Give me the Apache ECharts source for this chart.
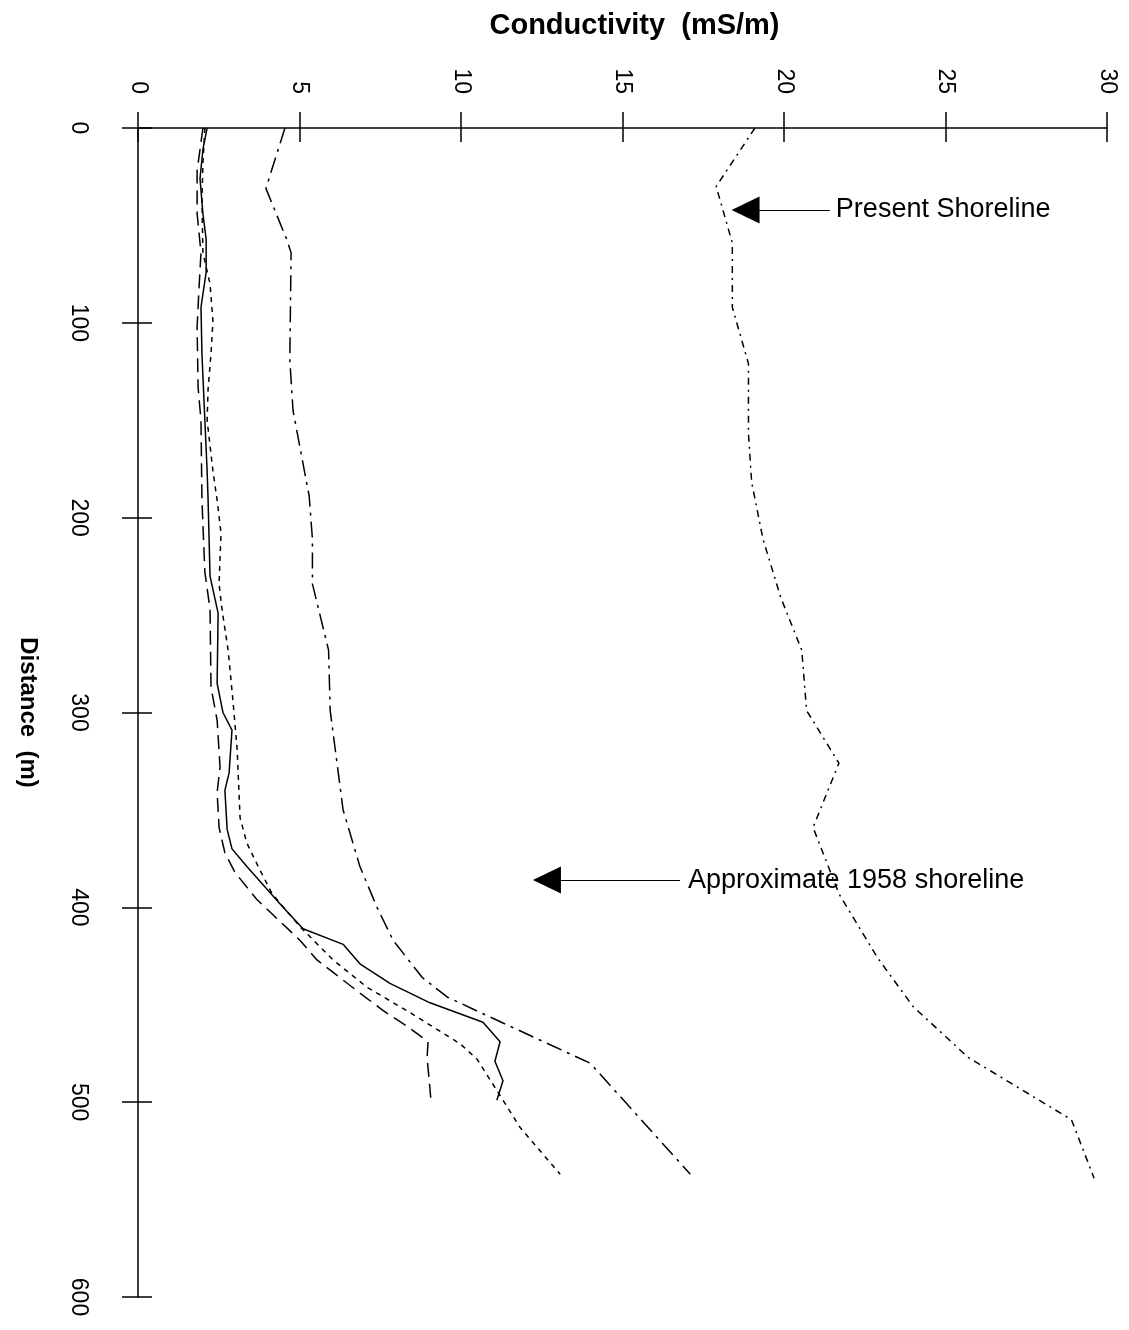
<!DOCTYPE html>
<html>
<head>
<meta charset="utf-8">
<script src="https://cdn.jsdelivr.net/npm/echarts@6/dist/echarts.min.js"></script>
<style>
  html, body { margin: 0; padding: 0; background: #fff; }
  #chart { width: 1129px; height: 1330px; }
</style>
</head>
<body>
<div id="chart"></div>
<script>
// distance (m) and conductivity (mS/m)
const distA = [0, 30, 59, 92, 121, 157, 182, 211, 241, 268, 299, 326, 359, 393, 426, 451, 477, 497, 509, 539];
const condA = [19.1, 17.9, 18.4, 18.4, 18.9, 18.9, 19.0, 19.35, 19.9, 20.55, 20.7, 21.7, 20.9, 21.7, 22.9, 24.0, 25.7, 27.7, 28.9, 29.6];

const distB = [0, 31, 57, 64, 119, 145, 189, 211, 234, 268, 299, 350, 379, 400, 417, 436, 446, 454, 480, 537];
const condB = [4.55, 3.96, 4.6, 4.74, 4.7, 4.8, 5.3, 5.4, 5.4, 5.9, 5.95, 6.35, 6.87, 7.4, 7.9, 8.8, 9.57, 10.6, 14.0, 17.1];

const distS = [0, 11, 26, 44, 57, 74, 92, 116, 150, 176, 191, 230, 249, 285, 300, 309, 331, 340, 360, 370, 379, 400, 411, 419, 429, 439, 449, 459, 469, 479, 489, 499];
const condS = [2.14, 2.01, 1.92, 2.01, 2.11, 2.11, 1.95, 1.98, 2.07, 2.14, 2.17, 2.23, 2.48, 2.45, 2.63, 2.91, 2.82, 2.69, 2.76, 2.91, 3.37, 4.49, 5.11, 6.35, 6.87, 7.8, 9.04, 10.68, 11.21, 11.05, 11.3, 11.11];

const distL = [0, 22, 44, 64, 82, 102, 133, 150, 191, 228, 247, 287, 304, 328, 341, 359, 372, 382, 396, 417, 427, 444, 453, 461, 469, 477, 499];
const condL = [2.01, 1.83, 1.83, 1.95, 1.89, 1.83, 1.86, 1.95, 1.98, 2.07, 2.23, 2.26, 2.45, 2.54, 2.45, 2.51, 2.69, 3.0, 3.68, 5.02, 5.54, 6.87, 7.59, 8.33, 8.98, 8.95, 9.07];

const distD = [0, 18, 37, 64, 80, 99, 116, 134, 150, 176, 191, 208, 234, 247, 268, 294, 319, 354, 367, 379, 393, 410, 427, 441, 454, 470, 478, 494, 513, 537];
const condD = [2.07, 2.01, 1.98, 2.01, 2.23, 2.32, 2.26, 2.17, 2.14, 2.32, 2.45, 2.57, 2.51, 2.6, 2.79, 2.94, 3.07, 3.16, 3.37, 3.72, 4.15, 5.02, 6.04, 7.09, 8.42, 9.97, 10.5, 11.11, 11.83, 13.07];

const condTicks = [0, 5, 10, 15, 20, 25, 30];
const distTicks = [0, 100, 200, 300, 400, 500, 600];

const pairs = (c, d) => c.map((v, i) => [v, d[i]]);

const font = '"Liberation Sans", Arial, Helvetica, sans-serif';

let myChart = echarts.init(document.getElementById('chart'));

const baseX = {
    type: 'value',
    position: 'top',
    min: condTicks[0],
    max: condTicks[condTicks.length - 1],
    interval: 5,
    splitLine: { show: false }
};
const baseY = {
    type: 'value',
    position: 'left',
    inverse: true,
    min: distTicks[0],
    max: distTicks[distTicks.length - 1],
    interval: 100,
    splitLine: { show: false }
};

function lineSeries(name, data, type) {
    return {
        name: name,
        type: 'line',
        data: data,
        symbol: 'none',
        silent: true,
        lineStyle: { color: '#000', width: 1.5, type: type }
    };
}

// arrow + text, placed in data units (conductivity, distance)
function arrow(from, to, text, gap) {
    return {
        type: 'line',
        data: [],
        silent: true,
        markLine: {
            silent: true,
            animation: false,
            symbol: ['none', 'triangle'],
            symbolSize: [27, 28],
            lineStyle: { color: '#000', width: 1.2, type: 'solid' },
            itemStyle: { color: '#000' },
            label: {
                show: true,
                position: 'start',
                distance: gap,
                formatter: text,
                color: '#000',
                fontSize: 27,
                fontFamily: font
            },
            data: [[{ coord: from }, { coord: to }]]
        }
    };
}

let option = {
    animation: false,
    backgroundColor: '#fff',
    grid: { left: 138, right: 22, top: 128, bottom: 33, outerBoundsMode: 'none' },
    xAxis: [
        Object.assign({}, baseX, {
            name: 'Conductivity  (mS/m)',
            nameLocation: 'middle',
            nameGap: 88,
            nameTextStyle: { fontSize: 29, fontWeight: 'bold', color: '#000', fontFamily: font, padding: [0, 0, 0, 24] },
            axisLine: { show: true, lineStyle: { color: '#000', width: 1.5 } },
            axisTick: { show: true, inside: false, length: 16, lineStyle: { color: '#000', width: 1.5 } },
            axisLabel: { rotate: -90, margin: 34, fontSize: 23, color: '#000', fontFamily: font }
        }),
        Object.assign({}, baseX, {
            axisLine: { show: false },
            axisTick: { show: true, inside: true, length: 14, lineStyle: { color: '#000', width: 1.5 } },
            axisLabel: { show: false }
        })
    ],
    yAxis: [
        Object.assign({}, baseY, {
            name: 'Distance  (m)',
            nameLocation: 'middle',
            nameGap: 98,
            nameRotate: -90,
            nameTextStyle: { fontSize: 24, fontWeight: 'bold', color: '#000', fontFamily: font },
            axisLine: { show: true, lineStyle: { color: '#000', width: 1.5 } },
            axisTick: { show: true, inside: false, length: 16, lineStyle: { color: '#000', width: 1.5 } },
            axisLabel: { rotate: -90, margin: 48, fontSize: 23, color: '#000', fontFamily: font }
        }),
        Object.assign({}, baseY, {
            axisLine: { show: false },
            axisTick: { show: true, inside: true, length: 14, lineStyle: { color: '#000', width: 1.5 } },
            axisLabel: { show: false }
        })
    ],
    series: [
        lineSeries('A', pairs(condA, distA), [7, 5, 2, 5]),
        lineSeries('B', pairs(condB, distB), [16, 6, 3, 6]),
        lineSeries('S', pairs(condS, distS), 'solid'),
        lineSeries('L', pairs(condL, distL), [14, 7]),
        lineSeries('D', pairs(condD, distD), [5, 5]),
        arrow([21.42, 42.1], [18.81, 42.1], 'Present Shoreline', 6),
        arrow([16.78, 386], [12.66, 386], 'Approximate 1958 shoreline', 8)
    ]
};

myChart.setOption(option, true);
</script>
</body>
</html>
